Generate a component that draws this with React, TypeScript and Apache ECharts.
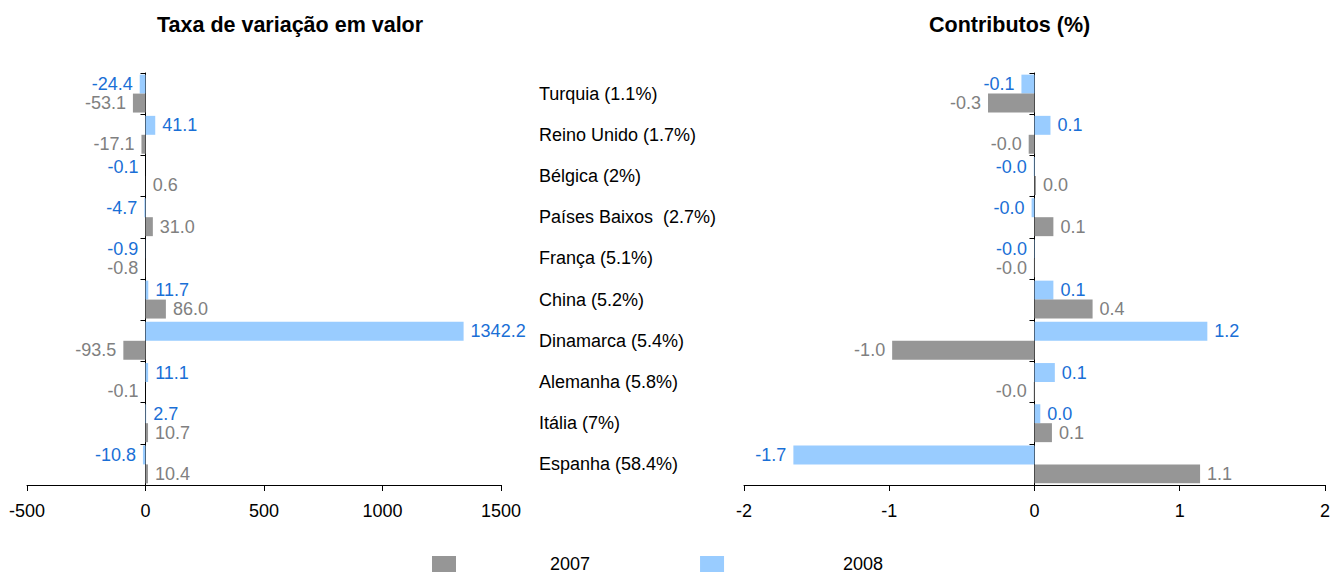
import React, { useEffect, useRef } from 'react';
import * as echarts from 'echarts';

const categories = [
  'Turquia (1.1%)',
  'Reino Unido (1.7%)',
  'Bélgica (2%)',
  'Países Baixos  (2.7%)',
  'França (5.1%)',
  'China (5.2%)',
  'Dinamarca (5.4%)',
  'Alemanha (5.8%)',
  'Itália (7%)',
  'Espanha (58.4%)',
];
const seriesNames = ['2007', '2008'];
const variacao2007 = [-53.1, -17.1, 0.6, 31.0, -0.8, 86.0, -93.5, -0.1, 10.7, 10.4];
const variacao2008 = [-24.4, 41.1, -0.1, -4.7, -0.9, 11.7, 1342.2, 11.1, 2.7, -10.8];
const contrib2007 = [-0.32, -0.04, 0.01, 0.13, -0.004, 0.4, -0.98, -0.005, 0.12, 1.14];
const contrib2008 = [-0.09, 0.11, -0.005, -0.02, -0.003, 0.13, 1.19, 0.14, 0.04, -1.66];
const titles = ['Taxa de variação em valor', 'Contributos (%)'];

const FONT = 'Liberation Sans, Arial, sans-serif';
const GRAY = '#969696';
const BLUE = '#99CCFF';
const GRAY_LABEL = '#808080';
const BLUE_LABEL = '#1A6FD6';

export default function App() {
  const ref = useRef<HTMLDivElement>(null);
  useEffect(() => {
    const chart = echarts.init(ref.current!, null, { renderer: 'svg' });
    const mk = (vals: number[], name: string, color: string, labelColor: string, idx: number) => ({
      type: 'bar',
      name,
      xAxisIndex: idx,
      yAxisIndex: idx,
      barGap: '0%',
      barCategoryGap: '8%',
      itemStyle: { color },
      data: vals.map((v) => ({ value: v, label: { position: v >= 0 ? 'right' : 'left' } })),
      label: {
        show: true,
        color: labelColor,
        fontSize: 18,
        fontFamily: FONT,
        distance: 7,
        formatter: (p: any) => Number(p.value).toFixed(1),
      },
    });
    const xAxisBase = {
      type: 'value',
      splitLine: { show: false },
      axisLine: { show: true, onZero: false, lineStyle: { color: '#000', width: 1 } },
      axisTick: { show: true, length: 6, lineStyle: { color: '#000' } },
      axisLabel: {
        color: '#000',
        fontSize: 18,
        fontFamily: FONT,
        margin: 17,
        formatter: (v: number) => String(v),
      },
    };
    const yAxisBase = {
      type: 'category',
      data: categories,
      inverse: true,
      axisLine: { show: true, onZero: true, lineStyle: { color: '#000', width: 1 } },
      axisTick: { show: true, length: 5, lineStyle: { color: '#000' } },
    };
    const titleStyle = { fontSize: 21.5, fontWeight: 'bold', color: '#000', fontFamily: FONT };
    chart.setOption({
      animation: false,
      backgroundColor: '#fff',
      title: [
        { text: titles[0], left: 157, top: 14, padding: 0, textStyle: titleStyle },
        { text: titles[1], left: 929, top: 14, padding: 0, textStyle: titleStyle },
      ],
      legend: {
        data: [
          { name: seriesNames[0] },
          { name: seriesNames[1], textStyle: { padding: [0, 0, 0, 114] } },
        ],
        left: 432,
        top: 555,
        padding: 0,
        itemWidth: 24,
        itemHeight: 16,
        itemGap: 110,
        icon: 'rect',
        textStyle: { fontSize: 18, color: '#000', fontFamily: FONT, padding: [0, 0, 0, 89] },
      },
      grid: [
        { left: 27, right: 1333 - 501, top: 73, bottom: 573 - 485, containLabel: false },
        { left: 744, right: 1333 - 1327, top: 73, bottom: 573 - 485, containLabel: false },
      ],
      xAxis: [
        { ...xAxisBase, gridIndex: 0, min: -500, max: 1500, interval: 500 },
        { ...xAxisBase, gridIndex: 1, min: -2, max: 2, interval: 1 },
      ],
      yAxis: [
        {
          ...yAxisBase,
          gridIndex: 0,
          axisLabel: {
            show: true,
            inside: true,
            margin: 512,
            color: '#000',
            fontSize: 18,
            fontFamily: FONT,
            align: 'left',
          },
        },
        { ...yAxisBase, gridIndex: 1, axisLabel: { show: false } },
      ],
      series: [
        mk(variacao2008, seriesNames[1], BLUE, BLUE_LABEL, 0),
        mk(variacao2007, seriesNames[0], GRAY, GRAY_LABEL, 0),
        mk(contrib2008, seriesNames[1], BLUE, BLUE_LABEL, 1),
        mk(contrib2007, seriesNames[0], GRAY, GRAY_LABEL, 1),
      ],
    });
    return () => chart.dispose();
  }, []);
  return (
    <div
      ref={ref}
      style={{ position: 'fixed', left: 0, top: 0, width: 1333, height: 573, background: '#fff' }}
    />
  );
}
